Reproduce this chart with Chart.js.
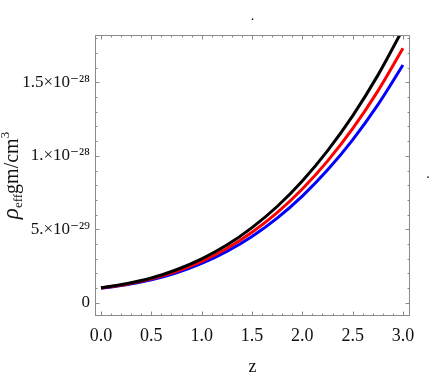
<!DOCTYPE html>
<html>
<head>
<meta charset="utf-8">
<script src="https://cdn.jsdelivr.net/npm/chart.js@4.4.1/dist/chart.umd.min.js"></script>
<style>
  html, body { margin: 0; padding: 0; background: #fff; }
  #wrap { width: 436px; height: 382px; }
</style>
</head>
<body>
<div id="wrap"><canvas id="c" width="436" height="382"></canvas></div>
<script>
// ---- data ----
const zValues = [0, 0.25, 0.5, 0.75, 1.0, 1.25, 1.5, 1.75, 2.0, 2.25, 2.5, 2.75, 3.0];
const blackSeries = [1.02e-29, 1.29e-29, 1.68e-29, 2.24e-29, 2.98e-29, 3.92e-29, 5.11e-29, 6.55e-29, 8.29e-29, 10.34e-29, 12.72e-29, 15.48e-29, 18.63e-29];
const redSeries   = [1.00e-29, 1.25e-29, 1.62e-29, 2.13e-29, 2.81e-29, 3.69e-29, 4.79e-29, 6.13e-29, 7.74e-29, 9.64e-29, 11.85e-29, 14.41e-29, 17.33e-29];
const blueSeries  = [0.98e-29, 1.21e-29, 1.55e-29, 2.03e-29, 2.67e-29, 3.49e-29, 4.51e-29, 5.76e-29, 7.26e-29, 9.03e-29, 11.09e-29, 13.47e-29, 16.19e-29];

const xTickValues = [0, 0.5, 1.0, 1.5, 2.0, 2.5, 3.0];
const xTickLabels = ['0.0', '0.5', '1.0', '1.5', '2.0', '2.5', '3.0'];
const yTickValues = [0, 5e-29, 1e-28, 1.5e-28];
const yTickLabels = ['0', '5.×10⁻²⁹', '1.×10⁻²⁸', '1.5×10⁻²⁸'];
const xTitle = 'z';

const toPoints = (ys) => zValues.map((z, i) => ({ x: z, y: ys[i] }));

const FRAME = '#8a8a8a';
const SERIF = '"Liberation Serif", "DejaVu Serif", serif';

const framePlugin = {
  id: 'frame',
  afterDatasetsDraw(chart) {
    const { ctx, chartArea: a, scales } = chart;
    const xs = scales.x, ys = scales.y;
    ctx.save();
    ctx.strokeStyle = FRAME;
    ctx.lineWidth = 1;
    ctx.strokeRect(Math.round(a.left) + 0.5, Math.round(a.top) + 0.5,
                   Math.round(a.right - a.left) - 1, Math.round(a.bottom - a.top) - 1);
    ctx.beginPath();
    // x ticks: minor every 0.1, major every 0.5
    for (let k = 0; k <= 30; k++) {
      const px = Math.round(xs.getPixelForValue(k / 10)) + 0.5;
      const len = (k % 5 === 0) ? 4.5 : 2.5;
      ctx.moveTo(px, a.bottom); ctx.lineTo(px, a.bottom - len);
      ctx.moveTo(px, a.top); ctx.lineTo(px, a.top + len);
    }
    // y ticks: minor every 1e-29, major every 5e-29
    for (let k = 0; k <= 18; k++) {
      const py = Math.round(ys.getPixelForValue(k * 1e-29)) + 0.5;
      const len = (k % 5 === 0) ? 4.5 : 2.5;
      ctx.moveTo(a.left, py); ctx.lineTo(a.left + len, py);
      ctx.moveTo(a.right, py); ctx.lineTo(a.right - len, py);
    }
    ctx.stroke();
    ctx.restore();
  },
  afterDraw(chart) {
    const { ctx, chartArea: a } = chart;
    ctx.save();
    // y axis title: rho_eff gm/cm^3, rotated
    const parts = [
      { t: 'ρ', f: 'italic 23px ' + SERIF, dy: 0 },
      { t: 'eff', f: '13px ' + SERIF, dy: 4 },
      { t: 'gm/cm', f: '20px ' + SERIF, dy: 0 },
      { t: '3', f: '13px ' + SERIF, dy: -9 }
    ];
    let total = 0;
    parts.forEach(p => { ctx.font = p.f; p.w = ctx.measureText(p.t).width; total += p.w; });
    ctx.translate(18, (a.top + a.bottom) / 2);
    ctx.rotate(-Math.PI / 2);
    ctx.fillStyle = '#111';
    ctx.textBaseline = 'alphabetic';
    let x = -total / 2;
    parts.forEach(p => { ctx.font = p.f; ctx.fillText(p.t, x, p.dy); x += p.w; });
    ctx.restore();
    // stray dots present in the reference
    ctx.save();
    ctx.fillStyle = '#111';
    ctx.font = '14px ' + SERIF;
    ctx.textAlign = 'center';
    ctx.fillText('.', (a.left + a.right) / 2, 20);
    ctx.fillText('.', 428, 178);
    ctx.restore();
  }
};

new Chart(document.getElementById('c'), {
  type: 'line',
  data: {
    datasets: [
      { label: 'black', data: toPoints(blackSeries), borderColor: '#000000', borderWidth: 3 },
      { label: 'red',   data: toPoints(redSeries),   borderColor: '#ff0000', borderWidth: 3 },
      { label: 'blue',  data: toPoints(blueSeries),  borderColor: '#0000ff', borderWidth: 3 }
    ]
  },
  options: {
    responsive: false,
    animation: false,
    devicePixelRatio: 1,
    layout: { padding: { left: 0, right: 26, top: 35, bottom: 0 } },
    elements: {
      point: { radius: 0 },
      line: { cubicInterpolationMode: 'monotone', fill: false }
    },
    plugins: { legend: { display: false }, tooltip: { enabled: false } },
    scales: {
      x: {
        type: 'linear',
        min: -0.06, max: 3.07,
        grid: { display: false, drawTicks: false },
        border: { display: false },
        afterBuildTicks: (s) => { s.ticks = xTickValues.map(v => ({ value: v })); },
        afterFit: (s) => { s.height = 66; },
        ticks: {
          padding: 9,
          color: '#111',
          font: { family: SERIF, size: 18 },
          callback: (v, i) => xTickLabels[i]
        },
        title: {
          display: true, text: xTitle, color: '#111',
          font: { family: SERIF, size: 18 },
          padding: { top: 0, bottom: 4 }
        }
      },
      y: {
        type: 'linear',
        min: -0.91e-29, max: 18.23e-29,
        grid: { display: false, drawTicks: false },
        border: { display: false },
        afterBuildTicks: (s) => { s.ticks = yTickValues.map(v => ({ value: v })); },
        afterFit: (s) => { s.width = 95; },
        ticks: {
          padding: 5,
          color: '#111',
          font: { family: SERIF, size: 17 },
          callback: (v, i) => yTickLabels[i]
        }
      }
    }
  },
  plugins: [framePlugin]
});
</script>
</body>
</html>
